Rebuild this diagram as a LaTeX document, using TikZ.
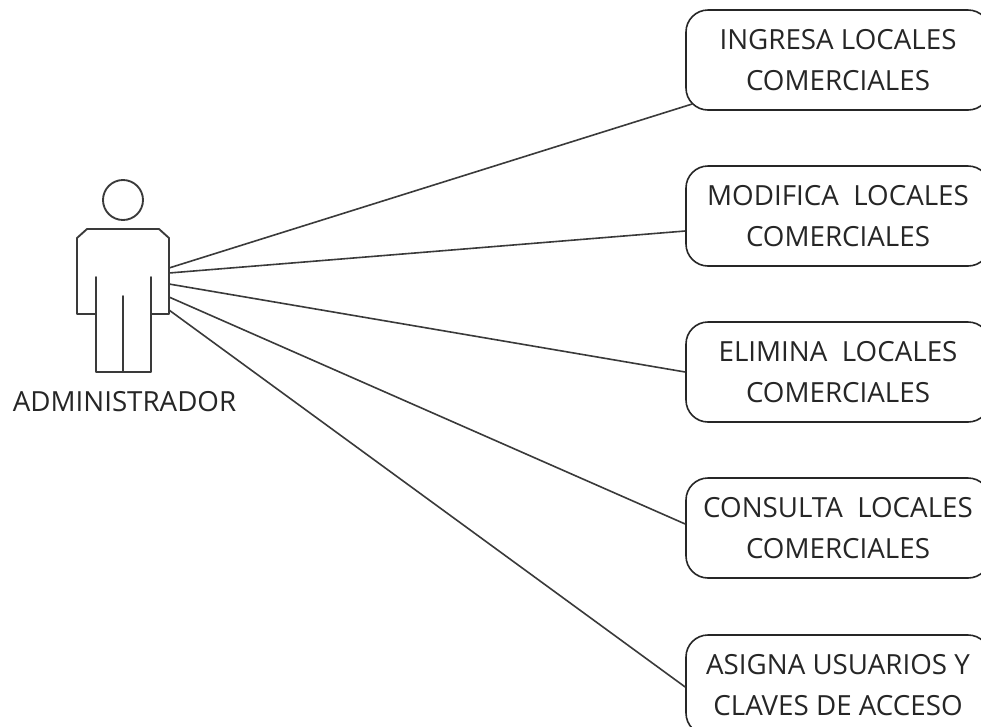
\documentclass[tikz,border=0pt]{standalone}
\usepackage{fontspec}
\setmainfont{Open Sans}
\definecolor{ink}{HTML}{262626}
\definecolor{inkline}{HTML}{3A3A3A}
\tikzset{
  base/.style={draw=inkline, line width=1.4pt, line cap=round, line join=round},
  conn/.style={draw=inkline, line width=1.2pt},
  lab/.style={text=ink, font=\fontsize{20.8}{25}\selectfont, inner sep=0pt},
  usecase/.style={draw=ink, line width=1.2pt, rounded corners=16.5pt, minimum width=228pt, minimum height=75pt,
    align=center, text=ink, font=\fontsize{20.8}{30.5}\selectfont, inner sep=0pt, fill=white},
}
\begin{document}
\begin{tikzpicture}[x=0.75pt,y=-0.75pt]
  \useasboundingbox (0,0) rectangle (981,726);
  \clip (0,0) rectangle (981,726);
  \fill[white] (0,0) rectangle (981,726);
  % actor
  \draw[base] (123,200) circle (20);
  \draw[base] (96,277)--(96,314)--(77,314)--(77,238)--(87,229)--(159,229)--(169,238)--(169,314)--(151,314)--(151,277);
  \draw[base] (96,314)--(96,372)--(151,372)--(151,314);
  \draw[base] (123,296)--(123,372);
  \node[lab] (admin) at (124.5,402) {ADMINISTRADOR};
  \coordinate (A1) at (169,268);
  \coordinate (A2) at (169,273);
  \coordinate (A3) at (169,284);
  \coordinate (A4) at (169,297);
  \coordinate (A5) at (169,310);
  % use cases
  \node[usecase] (ingresa) at (838,60) {INGRESA LOCALES\\COMERCIALES};
  \node[usecase] (modifica) at (838,216) {MODIFICA\ \ LOCALES\\COMERCIALES};
  \node[usecase] (elimina) at (838,372) {ELIMINA\ \ LOCALES\\COMERCIALES};
  \node[usecase] (consulta) at (838,528) {CONSULTA\ \ LOCALES\\COMERCIALES};
  \node[usecase] (asigna) at (838,685) {ASIGNA USUARIOS Y\\CLAVES DE ACCESO};
  % connectors
  \draw[conn] (A1)--([shift={(7,44)}]ingresa.west);
  \draw[conn] (A2)--([yshift=-11.25pt]modifica.west);
  \draw[conn] (A3)--(elimina.west);
  \draw[conn] (A4)--([yshift=3pt]consulta.west);
  \draw[conn] (A5)--([yshift=-1.5pt]asigna.west);
\end{tikzpicture}
\end{document}
